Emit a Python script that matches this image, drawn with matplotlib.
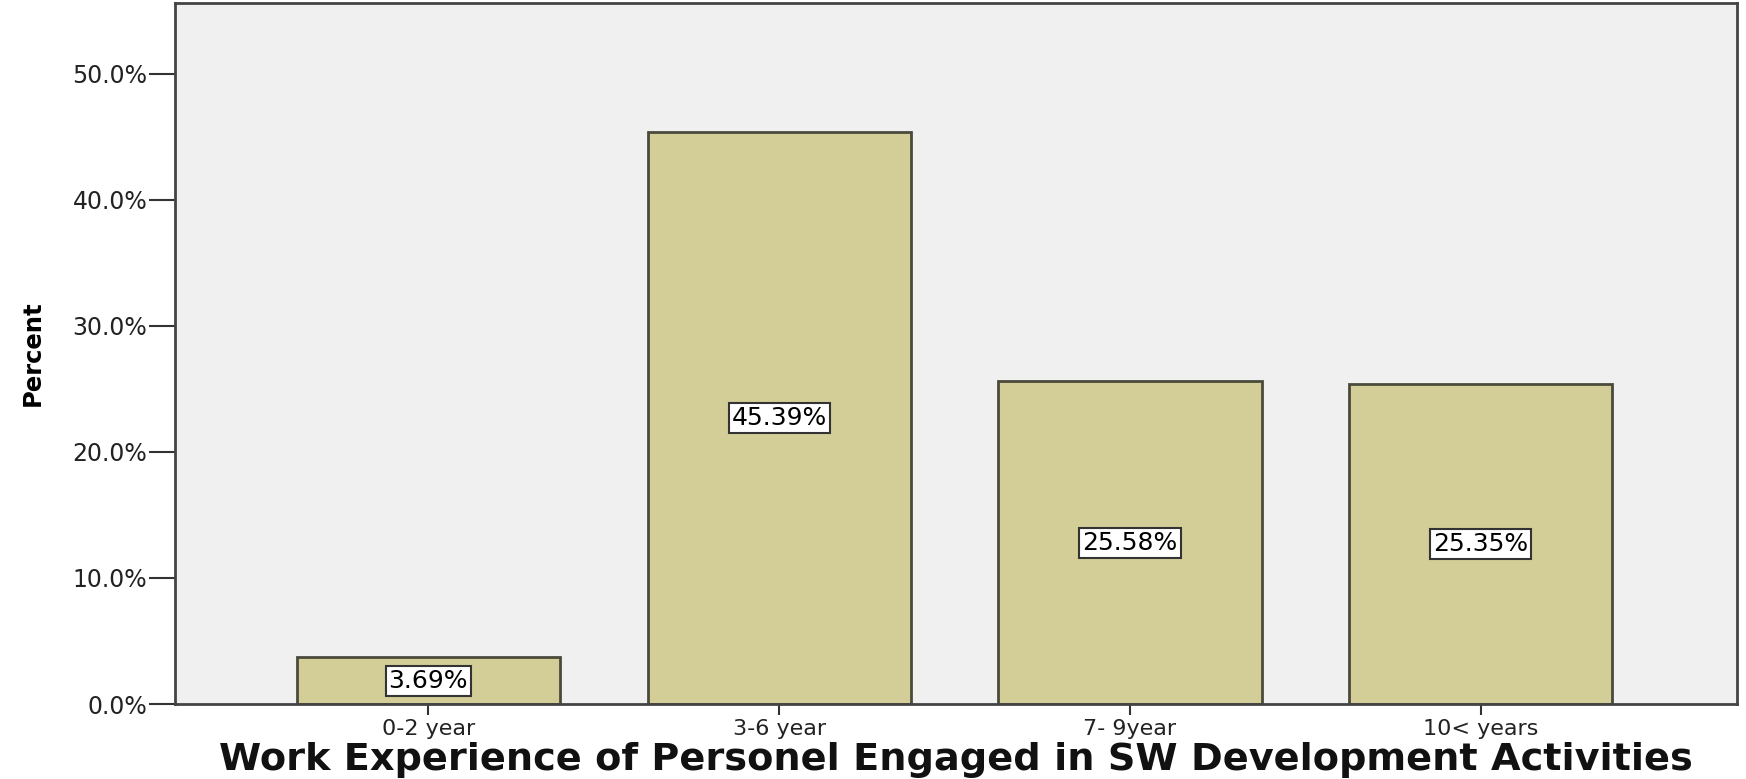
import matplotlib
matplotlib.use("Agg")
import matplotlib.pyplot as plt

categories = ["0-2 year", "3-6 year", "7- 9year", "10< years"]
percents = [3.69, 45.39, 25.58, 25.35]
ytick_vals = [0, 10, 20, 30, 40, 50]
ytick_labels = ["0.0%", "10.0%", "20.0%", "30.0%", "40.0%", "50.0%"]
xlabel = "Work Experience of Personel Engaged in SW Development Activities"
ylabel = "Percent"

W, H = 1746, 779
fig = plt.figure(figsize=(W / 100, H / 100), dpi=100)
fig.patch.set_facecolor("white")
ax = fig.add_axes([175 / W, 1 - 704 / H, (1737 - 175) / W, (704 - 3) / H])
ax.set_facecolor("#F0F0F0")

x = list(range(len(categories)))
ax.bar(x, percents, width=0.75, color="#D3CE97", edgecolor="#4A4A3C", linewidth=2, zorder=2)

for xi, v in zip(x, percents):
    ax.text(xi, v / 2, f"{v:.2f}%", ha="center", va="center", fontsize=18,
            color="black", zorder=3,
            bbox=dict(boxstyle="square,pad=0.12", facecolor="white", edgecolor="#333333", linewidth=1.5))

ax.set_xlim(-0.722, 3.73)
ax.set_ylim(0, 55.6)
ax.set_yticks(ytick_vals)
ax.set_yticklabels(ytick_labels, fontsize=17, color="#222222")
ax.set_xticks(x)
ax.set_xticklabels(categories, fontsize=16, color="#222222")
ax.tick_params(axis="y", length=19, width=1.5, color="#333333", pad=1)
ax.tick_params(axis="x", length=8, width=1.5, color="#333333", pad=3)

for s in ax.spines.values():
    s.set_color("#444444")
    s.set_linewidth(2)

ax.set_xlabel(xlabel, fontsize=27.5, fontweight="bold", color="#111111", labelpad=2)
ax.set_ylabel(ylabel, fontsize=17.5, fontweight="bold", color="black")
ax.yaxis.set_label_coords(-0.0835, 0.5)

fig.savefig("out.png", dpi=100, facecolor="white")
